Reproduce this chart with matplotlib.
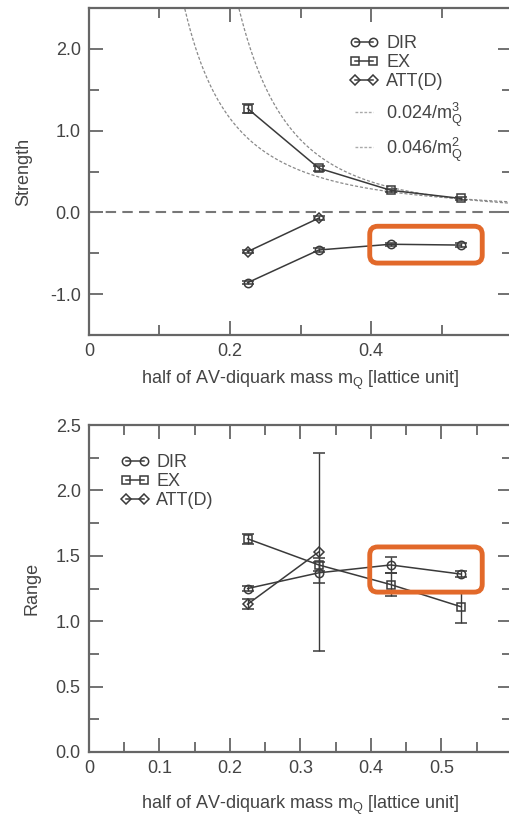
import matplotlib
matplotlib.use("Agg")
import matplotlib.pyplot as plt
import numpy as np
from matplotlib.lines import Line2D
from matplotlib.patches import FancyBboxPatch
from matplotlib.ticker import MultipleLocator

plt.rcParams['font.family'] = ['Liberation Sans', 'DejaVu Sans']
plt.rcParams['mathtext.fontset'] = 'custom'
plt.rcParams['mathtext.rm'] = 'Liberation Sans'
plt.rcParams['mathtext.it'] = 'Liberation Sans'

# half of AV-diquark mass m_Q
m_q = [0.225, 0.326, 0.428, 0.528]
m_q_att = [0.225, 0.326]

# Strength panel
strength_dir = [-0.86, -0.46, -0.39, -0.40]
strength_dir_err = [0.02, 0.02, 0.02, 0.02]
strength_ex = [1.27, 0.54, 0.27, 0.17]
strength_ex_err = [0.05, 0.03, 0.02, 0.02]
strength_att = [-0.48, -0.07]
strength_att_err = [0.02, 0.02]
coef_m3 = 0.024
coef_m2 = 0.046

# Range panel
range_dir = [1.25, 1.37, 1.43, 1.36]
range_dir_err = [0.02, 0.08, 0.06, 0.02]
range_ex = [1.63, 1.43, 1.28, 1.11]
range_ex_err = [0.04, 0.05, 0.09, 0.12]
range_att = [1.13, 1.53]
range_att_err = [0.04, 0.755]

TXT = '#444444'
LINE = '#3a3a3a'
SPINE = '#666666'
CURVE = '#8a8a8a'
xlabel = 'half of AV-diquark mass m$_\\mathregular{Q}$ [lattice unit]'

fig = plt.figure(figsize=(5.1, 8.18), dpi=100)
W, H = 510, 818
ax1 = fig.add_axes([89 / W, 1 - 335 / H, 423 / W, 327 / H])
ax2 = fig.add_axes([89 / W, 1 - 752 / H, 423 / W, 327 / H])

mk = dict(color=LINE, lw=1.1, mfc='none', mec=LINE, mew=1.1, ms=6,
          capsize=4, elinewidth=1.0, capthick=1.0, ecolor=LINE)
markers = {'DIR': ('o', 6), 'EX': ('s', 6), 'ATT(D)': ('D', 5)}

def series_handles():
    return [Line2D([], [], color=LINE, lw=1.1, marker=m, ms=s, mfc='none',
                   mec=LINE, mew=1.1) for m, s in markers.values()]

def style(ax):
    for s in ax.spines.values():
        s.set_color(SPINE)
        s.set_linewidth(1.6)
    ax.tick_params(which='both', direction='in', top=True, right=True,
                   colors=SPINE, labelcolor=TXT, labelsize=13, width=1.3)
    ax.tick_params(which='major', length=10, pad=6)
    ax.tick_params(which='minor', length=7)

legend_kw = dict(loc='upper left', frameon=False, fontsize=13, numpoints=2,
                 handlelength=1.6, handletextpad=0.4, labelspacing=0.12,
                 labelcolor=TXT, borderaxespad=0)

# ---- top: Strength ----
ax1.axhline(0, color='#777777', lw=1.5, ls=(0, (5, 3)))
mm = np.linspace(0.1, 0.6, 400)
ax1.plot(mm, coef_m3 / mm**3, color=CURVE, lw=0.9, ls=(0, (2.5, 1.5)))
ax1.plot(mm, coef_m2 / mm**2, color=CURVE, lw=0.9, ls=(0, (2.5, 1.5)))
ax1.errorbar(m_q, strength_dir, yerr=strength_dir_err, marker='o', **mk)
ax1.errorbar(m_q, strength_ex, yerr=strength_ex_err, marker='s', **mk)
ax1.errorbar(m_q_att, strength_att, yerr=strength_att_err, marker='D', **{**mk, 'ms': 5})
ax1.set_xlim(0, 0.6)
ax1.set_ylim(-1.5, 2.5)
ax1.xaxis.set_minor_locator(MultipleLocator(0.1))
ax1.yaxis.set_minor_locator(MultipleLocator(0.5))
ax1.set_xticks([0, 0.2, 0.4])
ax1.set_xticklabels(['0', '0.2', '0.4'])
ax1.set_yticks([-1, 0, 1, 2])
ax1.set_yticklabels(['-1.0', '0.0', '1.0', '2.0'])
style(ax1)
ax1.set_ylabel('Strength', fontsize=13, color=TXT, labelpad=13)
ax1.set_xlabel(xlabel, fontsize=13, color=TXT, labelpad=6)
leg1 = ax1.legend(series_handles(), ['DIR', 'EX', 'ATT(D)'],
                  bbox_to_anchor=(0.6, 0.94), **legend_kw)
ax1.add_artist(leg1)
curve_handles = [Line2D([], [], color='#aaaaaa', lw=1.0, ls=(0, (2, 1.2))) for _ in range(2)]
ax1.legend(curve_handles,
           ['0.024/m$_\\mathregular{Q}^\\mathregular{3}$',
            '0.046/m$_\\mathregular{Q}^\\mathregular{2}$'],
           bbox_to_anchor=(0.6, 0.74), **{**legend_kw, 'labelspacing': 0.38})

# ---- bottom: Range ----
ax2.errorbar(m_q, range_dir, yerr=range_dir_err, marker='o', **mk)
ax2.errorbar(m_q, range_ex, yerr=range_ex_err, marker='s', **mk)
ax2.errorbar(m_q_att, range_att, yerr=range_att_err, marker='D', **{**mk, 'ms': 5})
ax2.set_xlim(0, 0.6)
ax2.set_ylim(0, 2.5)
ax2.xaxis.set_minor_locator(MultipleLocator(0.05))
ax2.yaxis.set_minor_locator(MultipleLocator(0.25))
ax2.set_xticks([0, 0.1, 0.2, 0.3, 0.4, 0.5])
ax2.set_xticklabels(['0', '0.1', '0.2', '0.3', '0.4', '0.5'])
ax2.set_yticks([0, 0.5, 1.0, 1.5, 2.0, 2.5])
ax2.set_yticklabels(['0.0', '0.5', '1.0', '1.5', '2.0', '2.5'])
style(ax2)
ax2.set_ylabel('Range', fontsize=13, color=TXT, labelpad=11)
ax2.set_xlabel(xlabel, fontsize=13, color=TXT, labelpad=12)
ax2.legend(series_handles(), ['DIR', 'EX', 'ATT(D)'],
           bbox_to_anchor=(0.057, 0.933), **legend_kw)

# orange highlight boxes around the last two DIR points
def highlight(ax, xs, ys):
    pts = ax.transData.transform(np.column_stack([xs, ys]))
    pts = fig.dpi_scale_trans.inverted().transform(pts)
    padx, pady = 0.21, 0.18
    x0, x1 = pts[:, 0].min() - padx, pts[:, 0].max() + padx
    y0, y1 = pts[:, 1].min() - pady, pts[:, 1].max() + pady
    box = FancyBboxPatch((x0, y0), x1 - x0, y1 - y0,
                         boxstyle='round,pad=0,rounding_size=0.08',
                         transform=fig.dpi_scale_trans, fill=False,
                         edgecolor='#E2692A', lw=3.5, zorder=10)
    fig.patches.append(box)

highlight(ax1, m_q[2:], strength_dir[2:])
highlight(ax2, m_q[2:], range_dir[2:])

fig.savefig('out.png', dpi=100)
